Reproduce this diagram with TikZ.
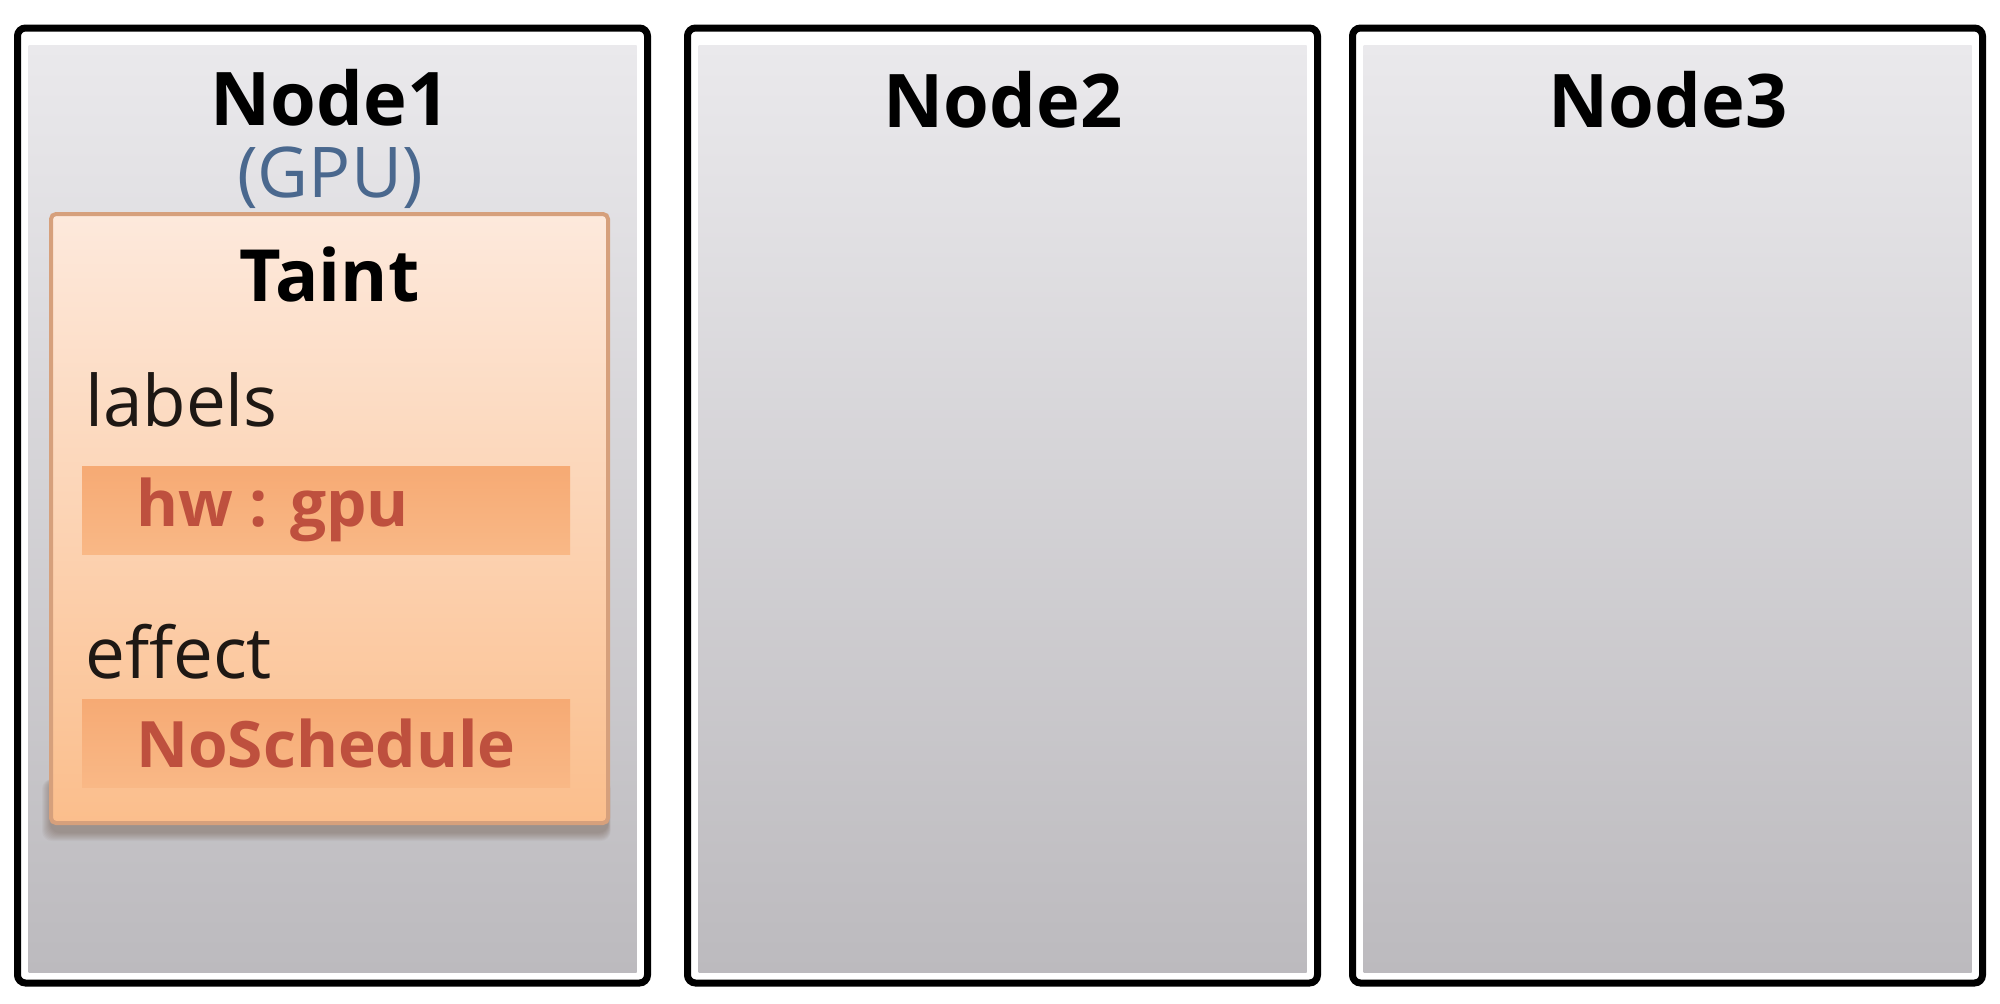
\documentclass[tikz,border=0pt]{standalone}
\usepackage{fontspec}
\setmainfont{Open Sans}
\definecolor{gtop}{RGB}{234,233,236}
\definecolor{gbot}{RGB}{188,186,190}
\definecolor{ttop}{RGB}{253,233,220}
\definecolor{tbot}{RGB}{251,190,140}
\definecolor{tborder}{RGB}{214,160,124}
\definecolor{bartop}{RGB}{246,170,116}
\definecolor{barbot}{RGB}{249,184,134}
\definecolor{valtxt}{RGB}{190,80,62}
\definecolor{gpublue}{RGB}{74,104,142}
\definecolor{txt}{RGB}{30,24,20}
\definecolor{shadowc}{RGB}{90,60,40}
\begin{document}
\begin{tikzpicture}[x=1pt,y=-1pt,
  frame/.style={draw=black, line width=7pt, rounded corners=8pt, fill=white,
    minimum width=630pt, minimum height=955pt, inner sep=0pt},
  panel/.style={draw=none, top color=gtop, bottom color=gbot,
    minimum width=608pt, minimum height=927pt, inner sep=0pt},
  title/.style={font=\fontsize{74}{88}\selectfont\bfseries, text=black, inner sep=0pt},
  taintbox/.style={draw=tborder, line width=4pt, rounded corners=5pt, top color=ttop, bottom color=tbot,
    minimum width=557pt, minimum height=609pt, inner sep=0pt},
  bar/.style={draw=none, top color=bartop, bottom color=barbot,
    minimum width=488pt, minimum height=88pt, inner sep=0pt},
  key/.style={font=\fontsize{71}{84}\selectfont, text=txt, inner sep=0pt, anchor=west},
  val/.style={font=\fontsize{64}{76}\selectfont\bfseries, text=valtxt, inner sep=0pt, anchor=west}
]
\useasboundingbox (0,0) rectangle (2000,1004);
\fill[white] (0,0) rectangle (2000,1004);

% node frames
\node[frame] (f1) at (332.5,505.5) {};
\node[panel] (p1) at (332.5,508.5) {};
\node[frame] (f2) at (1002.5,505.5) {};
\node[panel] (p2) at (1002.5,508.5) {};
\node[frame] (f3) at (1667.5,505.5) {};
\node[panel] (p3) at (1667.5,508.5) {};

% titles
\node[title] (t1) at (330,98) {Node1};
\node[font=\fontsize{70}{84}\selectfont, text=gpublue, inner sep=0pt] (gpu) at (330,178) {(GPU)};
\node[title] (t2) at (1003,100) {Node2};
\node[title] (t3) at (1668,100) {Node3};

% taint box with soft shadow
\coordinate (tsw) at (51,823);
\coordinate (tne) at (608,214);
\foreach \i in {1,...,9}{
  \fill[shadowc, opacity=0.045, rounded corners=10pt]
    ([xshift=-\i pt, yshift={-9pt-\i pt}]tsw) rectangle ([xshift={0.3*\i pt}, yshift=-565pt]tne);
}
\node[taintbox] (taint) at (329.5,518.5) {};
\node[title, font=\fontsize{72}{86}\selectfont\bfseries] (tt) at (329.5,274) {Taint};
\node[key] (labels) at (85,400) {labels};
\node[bar] (b1) at (326,510) {};
\node[val] (hw) at (136,510) {hw : gpu};
\node[key] (effect) at (85,652) {effect};
\node[bar] (b2) at (326,743) {};
\node[val] (ns) at (136,743) {NoSchedule};
\end{tikzpicture}
\end{document}
